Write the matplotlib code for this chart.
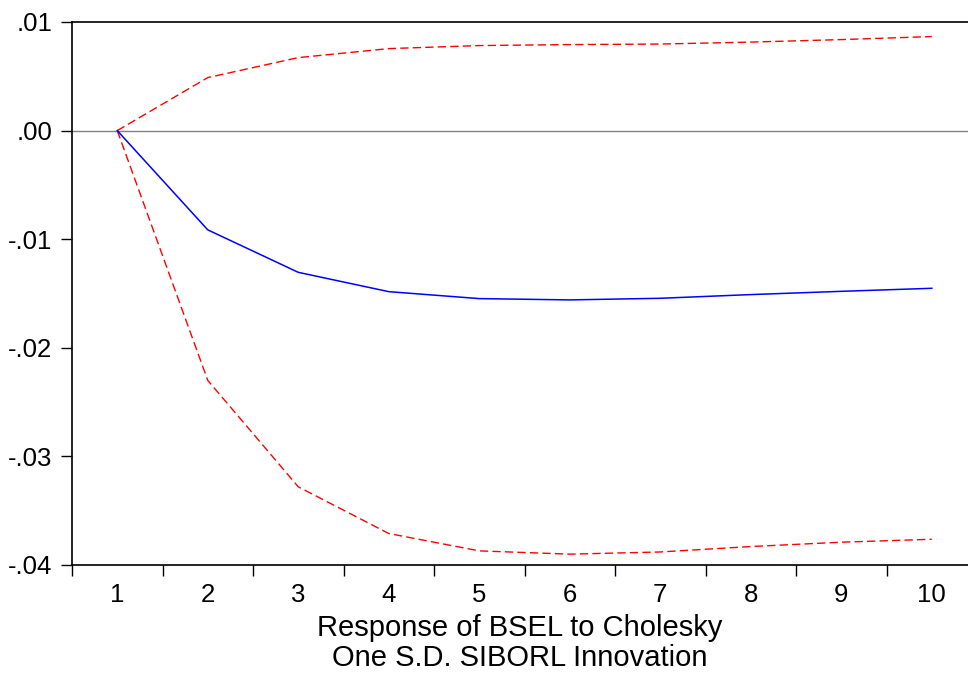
import matplotlib
matplotlib.use("Agg")
import matplotlib.pyplot as plt
from matplotlib.ticker import FixedLocator, FuncFormatter

plt.rcParams['font.family'] = ['Liberation Sans', 'DejaVu Sans']

periods = [1, 2, 3, 4, 5, 6, 7, 8, 9, 10]
response = [0.0, -0.00914, -0.01305, -0.01483, -0.01547, -0.01559, -0.01544, -0.01510, -0.01480, -0.01452]
upper_band = [0.0, 0.00488, 0.00672, 0.00755, 0.00783, 0.00792, 0.00797, 0.00815, 0.00838, 0.00866]
lower_band = [0.0, -0.02300, -0.03280, -0.03710, -0.03870, -0.03900, -0.03880, -0.03830, -0.03790, -0.03763]
y_ticks = [0.01, 0.0, -0.01, -0.02, -0.03, -0.04]
x_label = "Response of BSEL to Cholesky\nOne S.D. SIBORL Innovation"

fig = plt.figure(figsize=(9.68, 6.81), dpi=100)
ax = fig.add_axes([72 / 968, 1 - 565 / 681, 1 - 72 / 968, (565 - 22) / 681])

ax.axhline(0, color='#808080', lw=1.0, zorder=1)
ax.plot(periods, upper_band, color='red', lw=1.0, ls=(0, (6, 3)), zorder=2)
ax.plot(periods, lower_band, color='red', lw=1.0, ls=(0, (6, 3)), zorder=2)
ax.plot(periods, response, color='blue', lw=1.1, zorder=3)

ax.set_xlim(0.5, 10.4)
ax.set_ylim(-0.04, 0.01)

ax.spines['right'].set_visible(False)
for s in ('left', 'top', 'bottom'):
    ax.spines[s].set_linewidth(1.2)

ax.yaxis.set_major_locator(FixedLocator(y_ticks))
ax.yaxis.set_major_formatter(FuncFormatter(lambda v, p: ("%.2f" % v).replace("0.", ".").replace("-.00", ".00")))
ax.tick_params(axis='y', direction='out', length=8, width=1.0, pad=6, labelsize=18.5)

ax.xaxis.set_major_locator(FixedLocator(periods))
ax.xaxis.set_minor_locator(FixedLocator([p - 0.5 for p in periods] + [10.5]))
ax.tick_params(axis='x', which='major', length=0, pad=13, labelsize=18.5)
ax.tick_params(axis='x', which='minor', direction='out', length=8, width=1.0)

ax.set_xlabel(x_label, fontsize=21, labelpad=5, linespacing=1.1)

fig.savefig("out.png", dpi=100)
